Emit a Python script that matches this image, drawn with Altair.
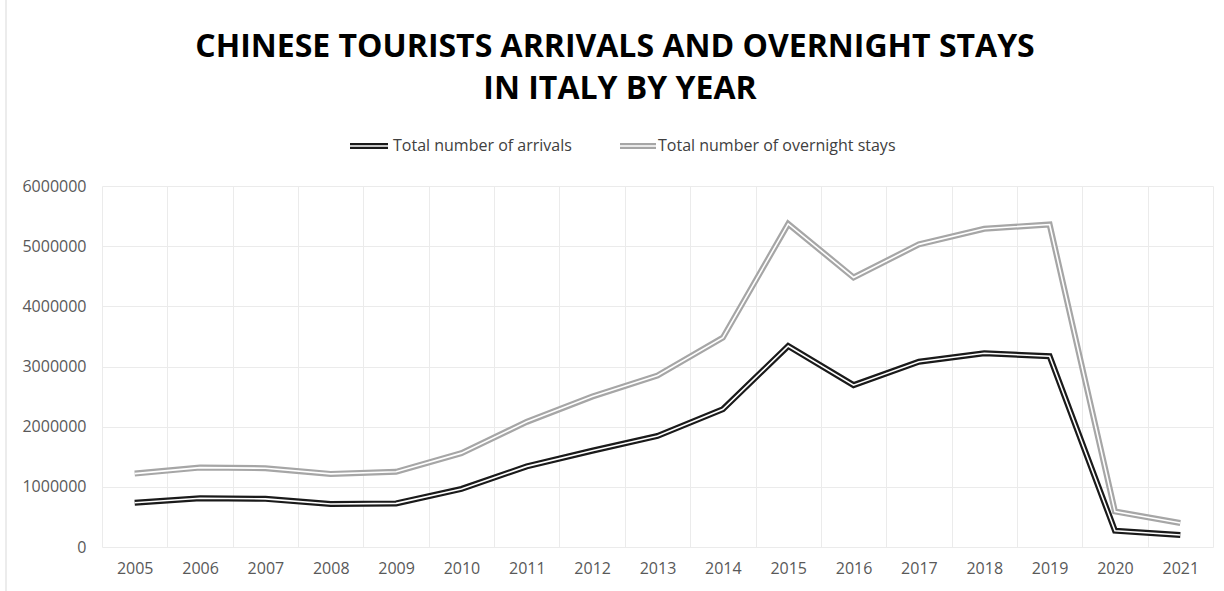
import altair as alt
import pandas as pd

years = [str(y) for y in range(2005, 2022)]
arrivals = [735000, 810000, 800000, 715000, 725000, 965000, 1340000, 1600000, 1845000,
            2290000, 3340000, 2690000, 3080000, 3220000, 3170000, 270000, 200000]
overnight = [1220000, 1320000, 1310000, 1215000, 1250000, 1560000, 2080000, 2500000, 2850000,
             3480000, 5370000, 4480000, 5030000, 5290000, 5360000, 590000, 400000]
series_names = ["Total number of arrivals", "Total number of overnight stays"]
title_lines = ["CHINESE TOURISTS ARRIVALS AND OVERNIGHT STAYS", "IN ITALY BY YEAR"]
y_ticks = [0, 1000000, 2000000, 3000000, 4000000, 5000000, 6000000]

FONT = "Open Sans"
BLACK = "#1a1a1a"
GREY = "#a6a6a6"

df_a = pd.DataFrame({"year": years, "value": arrivals})
df_o = pd.DataFrame({"year": years, "value": overnight})

x_enc = alt.X("year:O", bandPosition=0.5,
              scale=alt.Scale(type="band", paddingInner=0, paddingOuter=0),
              axis=alt.Axis(title=None, labelAngle=0, tickBand="extent", grid=True,
                            gridColor="#ebebeb", domain=False, ticks=False,
                            labelPadding=13, labelFontSize=16, labelColor="#595959",
                            labelFont=FONT))
y_enc = alt.Y("value:Q", scale=alt.Scale(domain=[0, 6000000], nice=False),
              axis=alt.Axis(title=None, values=y_ticks, format="d", grid=True,
                            gridColor="#ebebeb", domain=False, ticks=False,
                            labelPadding=16, labelFontSize=16, labelColor="#595959",
                            labelFont=FONT))

def double_line(df, color):
    outer = alt.Chart(df).mark_line(color=color, strokeWidth=6, strokeJoin="miter").encode(x=x_enc, y=y_enc)
    inner = alt.Chart(df).mark_line(color="white", strokeWidth=1.6, strokeJoin="miter").encode(x=x_enc, y=y_enc)
    return [outer, inner]

layers = []
layers += double_line(df_o, GREY)
layers += double_line(df_a, BLACK)

# Legend (manual, to show double-line symbols)
leg_y = -40
def legend_symbol(x0, x1, color):
    outer = alt.Chart(pd.DataFrame({"a": [0]})).mark_rule(color=color, strokeWidth=6).encode(
        x=alt.value(x0), x2=alt.value(x1), y=alt.value(leg_y))
    inner = alt.Chart(pd.DataFrame({"a": [0]})).mark_rule(color="white", strokeWidth=1.6).encode(
        x=alt.value(x0), x2=alt.value(x1), y=alt.value(leg_y))
    return [outer, inner]

layers += legend_symbol(248, 286, BLACK)
layers += legend_symbol(518, 554, GREY)
layers.append(alt.Chart(pd.DataFrame({"t": [series_names[0]]})).mark_text(
    align="left", baseline="middle", font=FONT, fontSize=16, color="#404040").encode(
    text="t:N", x=alt.value(291), y=alt.value(leg_y)))
layers.append(alt.Chart(pd.DataFrame({"t": [series_names[1]]})).mark_text(
    align="left", baseline="middle", font=FONT, fontSize=16, color="#404040").encode(
    text="t:N", x=alt.value(556), y=alt.value(leg_y)))

# Title (two lines)
for i, line in enumerate(title_lines):
    layers.append(alt.Chart(pd.DataFrame({"t": [line]})).mark_text(
        align="center", baseline="alphabetic", font=FONT, fontSize=32, fontWeight="bold",
        color="#000000").encode(text="t:N", x=alt.value(513 + 5 * i), y=alt.value(-129 + 42 * i)))

# Chart frame left edge
layers.append(alt.Chart(pd.DataFrame({"a": [0]})).mark_rule(color="#d9d9d9", strokeWidth=1).encode(
    x=alt.value(-96), y=alt.value(-186), y2=alt.value(405)))

chart = alt.layer(*layers).properties(
    width=1111, height=361,
    autosize=alt.AutoSizeParams(type="none"),
    padding={"left": 102, "top": 186, "right": 11, "bottom": 44},
    background="white",
).configure_view(stroke=None)

chart.save("out.html", embed_options={"renderer": "svg", "actions": False})
